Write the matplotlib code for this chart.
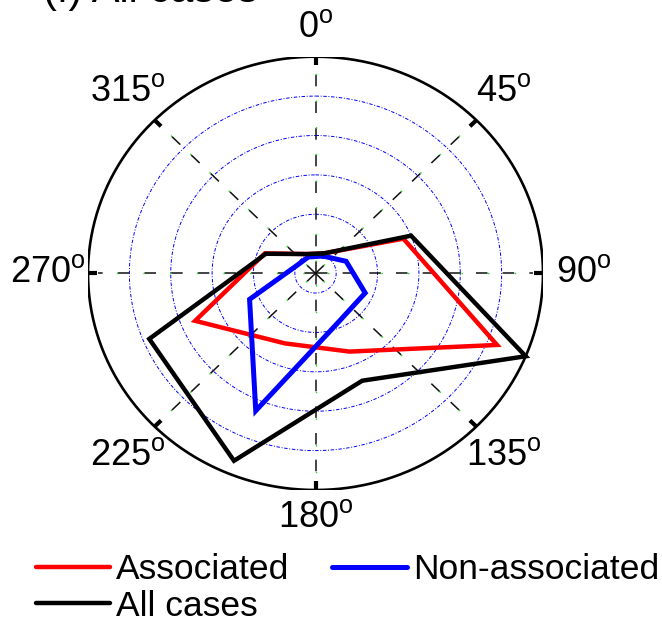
import numpy as np
import matplotlib
matplotlib.use('Agg')
import matplotlib.pyplot as plt

# directions of the sectors (deg, clockwise from north) and values per sector
angles = [22.5, 67.5, 112.5, 157.5, 202.5, 247.5, 292.5, 337.5]
associated = [1.1, 4.6, 9.5, 4.3, 3.85, 6.3, 2.65, 1.06]
nonAssociated = [0.95, 1.6, 2.6, 2.75, 7.55, 3.45, 1.0, 0.9]
allCases = [1.1, 5.0, 11.0, 5.9, 10.3, 8.7, 2.6, 1.06]

seriesNames = ['Associated', 'Non-associated', 'All cases']
ringRadii = [1, 3, 5, 7, 9]
rmax = 11
spokeAngles = [0, 45, 90, 135, 180, 225, 270, 315]
title = '(f) All cases'

plt.rcParams['font.family'] = ['Liberation Sans', 'DejaVu Sans']
plt.rcParams['mathtext.fontset'] = 'custom'
plt.rcParams['mathtext.rm'] = 'Liberation Sans'
plt.rcParams['lines.scale_dashes'] = False

def toXY(angDeg, r):
  a = np.radians(np.asarray(angDeg, dtype=float))
  r = np.asarray(r, dtype=float)
  return r*np.sin(a), r*np.cos(a)

W, H = 662, 621
fig = plt.figure(figsize=(W/100, H/100), dpi=100)
ax = fig.add_axes([88/W, (H - 490)/H, 455/W, 433.3/H])
ax.set_xlim(-rmax, rmax)
ax.set_ylim(-rmax, rmax)
ax.axis('off')

# rings
t = np.linspace(0, 360, 361)
for rr in ringRadii:
  x, y = toXY(t, rr)
  ax.plot(x, y, color='blue', lw=0.7, ls=(0, (2.5, 1.2, 0.7, 1.2)), zorder=1)
x, y = toXY(t, rmax)
ax.plot(x, y, color='black', lw=1.9, zorder=6, solid_capstyle='butt')

# spokes
for a in spokeAngles:
  x, y = toXY([a, a], [0, rmax*0.955])
  ax.plot(x, y, color='#111111', lw=1.1, ls=(0, (8.3, 10.9)), zorder=2)
  ax.plot(x, y, color='#22dd22', lw=1.0, ls=(10.9, (1.1, 18.1)), zorder=2)
  x, y = toXY([a, a], [rmax*0.96, rmax])
  ax.plot(x, y, color='black', lw=3.0, zorder=6, solid_capstyle='butt')

# angle labels
for a in spokeAngles:
  if a % 90 == 0:
    rx, ry, dy = 12.95, 12.45, 0.05
  else:
    rx, ry, dy = 12.85, 13.05, 0.0
  x = rx*np.sin(np.radians(a))
  y = ry*np.cos(np.radians(a)) + dy
  ax.text(x, y, str(a) + r'$^\mathrm{o}$', fontsize=26, ha='center', va='center')

# data polygons
colors = ['red', 'blue', 'black']
widths = [3.2, 3.6, 3.2]
handles = []
for i, vals in enumerate([associated, nonAssociated, allCases]):
  x, y = toXY(angles + angles[:1], vals + vals[:1])
  h, = ax.plot(x, y, color=colors[i], lw=widths[i], label=seriesNames[i],
               zorder=3 + i, solid_joinstyle='miter', solid_capstyle='round')
  handles.append(h)

fig.text(43/W, 1 - 2/H, title, fontsize=30, ha='left', va='baseline')

ax.legend(handles=[handles[0], handles[2], handles[1]], ncol=2, loc='upper left',
          bbox_to_anchor=(36/W, 1 - 553/H), bbox_transform=fig.transFigure,
          frameon=False, fontsize=25.5, handlelength=2.1, handletextpad=0.17,
          columnspacing=1.2, labelspacing=0.1, borderpad=0, borderaxespad=0)

fig.savefig('out.png', dpi=100)
